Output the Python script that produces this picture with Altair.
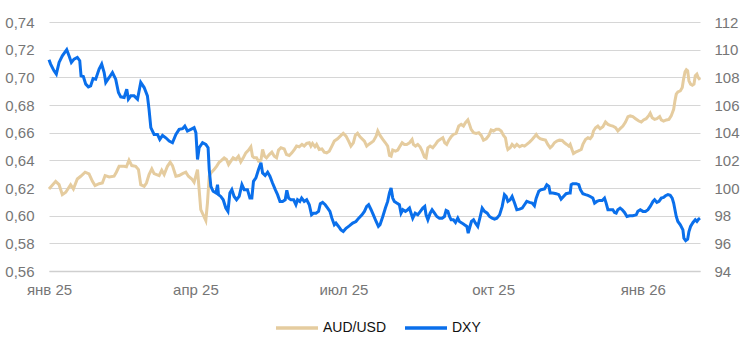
import altair as alt
import pandas as pd

# ---- data (days since 2025-01-01, values) ----
aud_days = [0, 4.1, 6.2, 8.2, 10.3, 13.3, 15.0, 17.4, 19.5, 22.2, 24.6, 26.7, 28.3, 30.8, 32.8, 34.5, 37.0, 40.0, 41.4, 43.1,
            46.2, 47.6, 49.2, 50.9, 53.3, 55.0, 56.4, 58.5, 59.9, 61.5, 63.2, 64.6, 67.7, 69.3, 70.8, 72.8, 74.5, 75.9, 78.0, 80.0,
            82.1, 84.1, 85.7, 87.8, 89.2, 91.3,
            93.3, 94.8, 96.4, 97.4, 98.5, 99.5, 101.5, 103.0, 104.6, 106.2, 107.7, 109.1, 110.4, 111.8, 113.2, 114.9, 116.5, 117.9,
            119.4, 121.0, 122.7, 124.1, 125.1, 126.1, 127.6, 128.8, 130.3, 131.3, 132.5, 133.7, 135.4, 137.0, 138.5, 139.9, 141.1,
            142.6, 144.6, 146.0, 147.7, 149.3, 150.8, 152.2, 153.8, 155.5, 156.9, 158.4, 160.0, 161.0, 162.0, 163.5, 164.5, 166.1,
            167.8, 169.2, 170.7, 172.3, 173.9, 175.4, 177.4, 179.5, 180.9, 182.6, 184.2, 185.6, 187.1, 188.3, 189.7, 191.2,
            193.9, 195.3, 196.5, 198.0, 199.4, 201.1, 202.1, 203.5, 205.2, 206.8, 208.2, 209.3, 210.3, 211.3, 213.0, 214.4, 215.8,
            217.1, 218.5, 219.9, 221.6, 223.2, 224.0, 225.3, 226.7, 228.1, 229.4, 230.8, 231.8, 232.9, 234.3, 235.9, 237.6, 239.0,
            240.4, 242.1, 243.3, 244.5, 245.8, 247.2, 248.6, 250.3, 251.9, 253.4, 254.8, 256.0, 257.5, 258.5, 259.5, 261.0, 262.6,
            264.2, 265.7, 267.1, 268.8, 270.4, 271.8, 273.3, 274.9, 276.5, 278.0, 279.4, 280.6, 281.5, 282.1, 283.5, 284.7, 286.2,
            287.6, 289.3, 290.9,
            292.3, 293.7, 295.4, 297.0, 298.4, 299.5, 300.5, 301.9, 303.6, 305.2, 306.6, 308.1, 309.3, 310.7, 312.2, 313.8, 315.5,
            316.9, 318.3, 319.6, 320.4, 321.6, 322.4, 323.7, 325.1, 327.2, 328.2, 329.8, 331.3, 332.7, 333.9, 334.7, 336.0, 337.4,
            338.8, 340.5, 342.1, 343.6, 345.0, 346.6, 348.3, 349.7, 351.1, 352.8, 354.4, 355.9, 357.3, 358.9, 360.6, 362.6, 364.1,
            365.5, 367.1, 368.8, 369.6, 370.8, 372.3, 373.7, 375.4, 376.4, 377.8, 379.5, 381.1, 382.5, 384.0, 384.8, 385.6, 386.6,
            388.1, 389.3, 390.1, 391.0, 391.8, 392.6, 393.4, 394.4, 395.5, 396.5, 397.3, 398.3, 399.1, 400.2]
aud_values = [0.6193, 0.6248, 0.6224, 0.6152, 0.6169, 0.6224, 0.6193, 0.6265, 0.6285, 0.6314, 0.6302, 0.6248, 0.6217, 0.6231,
              0.6236, 0.6290, 0.6280, 0.6285, 0.6314, 0.6357, 0.6357, 0.6353, 0.6401, 0.6362, 0.6357, 0.6333, 0.6224, 0.6212,
              0.6236, 0.6297, 0.6338, 0.6304, 0.6290, 0.6328, 0.6297, 0.6357, 0.6386, 0.6362, 0.6285, 0.6290, 0.6304, 0.6314,
              0.6285, 0.6265, 0.6241, 0.6333,
              0.6043, 0.6006, 0.5965, 0.6091, 0.6285, 0.6309, 0.6333, 0.6357, 0.6386, 0.6401, 0.6418, 0.6406, 0.6369, 0.6394,
              0.6418, 0.6406, 0.6430, 0.6389, 0.6418, 0.6454, 0.6474, 0.6498, 0.6430, 0.6418, 0.6418, 0.6394, 0.6401, 0.6478,
              0.6430, 0.6418, 0.6442, 0.6459, 0.6430, 0.6418, 0.6474, 0.6491, 0.6483, 0.6442, 0.6435, 0.6454, 0.6478, 0.6503,
              0.6498, 0.6515, 0.6503, 0.6522, 0.6527, 0.6503, 0.6522, 0.6498, 0.6515, 0.6478, 0.6483, 0.6459, 0.6454, 0.6466,
              0.6503, 0.6539, 0.6556, 0.6580, 0.6595, 0.6575, 0.6539, 0.6503, 0.6527, 0.6580, 0.6595, 0.6570,
              0.6539, 0.6503, 0.6515, 0.6527, 0.6539, 0.6575, 0.6612, 0.6580, 0.6551, 0.6527, 0.6503, 0.6435, 0.6430, 0.6474,
              0.6466, 0.6474, 0.6503, 0.6527, 0.6515, 0.6515, 0.6527, 0.6551, 0.6515, 0.6503, 0.6515, 0.6498, 0.6466, 0.6425,
              0.6418, 0.6491, 0.6503, 0.6491, 0.6515, 0.6539, 0.6551, 0.6563, 0.6527, 0.6515, 0.6546, 0.6570, 0.6587, 0.6595,
              0.6648, 0.6660, 0.6648, 0.6672, 0.6692, 0.6660, 0.6624, 0.6600, 0.6595, 0.6600, 0.6580, 0.6546, 0.6556, 0.6580,
              0.6619, 0.6612, 0.6624, 0.6624, 0.6612, 0.6580, 0.6563, 0.6503, 0.6478, 0.6491, 0.6515, 0.6498, 0.6515, 0.6498,
              0.6508,
              0.6503, 0.6515, 0.6532, 0.6551, 0.6570, 0.6587, 0.6570, 0.6556, 0.6551, 0.6546, 0.6515, 0.6491, 0.6503, 0.6527,
              0.6539, 0.6546, 0.6544, 0.6527, 0.6515, 0.6503, 0.6515, 0.6474, 0.6449, 0.6459, 0.6466, 0.6478, 0.6515, 0.6551,
              0.6563, 0.6556, 0.6575, 0.6612, 0.6636, 0.6648, 0.6629, 0.6643, 0.6677, 0.6660, 0.6653, 0.6648, 0.6636, 0.6612,
              0.6629, 0.6648, 0.6677, 0.6716, 0.6721, 0.6716, 0.6701, 0.6684, 0.6677, 0.6692, 0.6701, 0.6725, 0.6740, 0.6708,
              0.6696, 0.6701, 0.6716, 0.6692, 0.6684, 0.6692, 0.6696, 0.6721, 0.6769, 0.6830, 0.6878, 0.6895, 0.6902, 0.6926,
              0.6987, 0.7040, 0.7055, 0.7047, 0.6975, 0.6951, 0.6943, 0.6951, 0.7011, 0.7023, 0.6999, 0.6982]

dxy_days = [0, 1.0, 3.1, 4.5, 6.2, 8.2, 10.9, 12.3, 13.75, 15.4, 17.4, 18.9, 19.7, 21.1, 22.6, 24.2, 25.6, 27.1, 28.7, 30.8,
            32.4, 33.9, 34.9, 37.0, 39.0, 41.0, 42.7, 44.1, 46.2, 47.8, 48.8, 50.3, 52.3, 54.4, 56.4, 58.5, 60.5, 61.5, 62.6, 64.6,
            66.7, 68.1, 69.8, 71.8, 73.9, 75.9, 78.0, 80.0, 82.1, 83.5, 85.1, 87.2, 89.2, 90.3, 91.3, 92.3, 94.4, 96.4, 97.8,
            98.5, 99.5, 100.9, 102.6, 103.6, 104.2, 105.6, 107.1, 108.7, 110.0, 111.2, 112.4, 113.8, 115.3, 116.9, 118.6, 120.0,
            122.0, 123.5, 124.7, 125.7, 127.2, 128.8, 130.3, 131.3, 132.9, 134.4, 135.8, 137.4, 139.1, 140.5, 142.0, 143.6, 145.2,
            146.2, 147.3, 148.7, 150.4, 151.8, 152.8, 154.2, 155.3, 156.9, 158.4, 160.0, 161.4, 162.7, 164.1, 165.7, 166.8, 168.2,
            169.8, 171.3, 172.7, 173.9, 175.4, 176.4, 178.0, 179.5, 180.9, 182.6, 184.6, 186.7, 188.7, 190.4,
            192.4, 193.9, 195.3, 196.5, 198.0, 199.4, 201.1, 202.5, 203.5, 205.2, 206.8, 208.2, 209.3, 210.3, 211.3, 212.3, 213.8,
            215.4, 216.4, 217.5, 219.1, 220.5, 221.6, 222.6, 223.6, 225.1, 226.7, 228.3, 229.8, 231.0, 231.8, 232.9, 234.3, 235.5,
            237.0, 238.4, 240.0, 241.7, 243.1, 244.1, 245.2, 246.2, 247.2, 248.6, 249.9, 251.3, 252.3, 254.0, 255.4, 256.9, 257.7,
            258.5, 259.7, 261.0, 262.2, 263.6, 265.1, 266.3, 267.7, 269.4, 270.8, 272.4, 273.9, 275.3, 277.0, 278.6, 280.0, 281.1,
            282.1, 283.5, 284.7, 286.2, 287.6, 289.3, 290.9,
            292.3, 293.7, 295.4, 297.0, 298.4, 299.5, 301.1, 302.5, 304.6, 306.0, 307.3, 308.1, 309.7, 311.8, 313.4, 314.8, 316.3,
            317.9, 319.6, 320.4, 321.0, 322.0, 324.1, 325.7, 326.7, 328.2, 329.8, 331.3, 332.7, 334.3, 335.4, 336.8, 338.4, 340.1,
            341.5, 342.5, 343.6, 345.0, 346.6, 347.7, 348.7, 349.7, 351.1, 352.4, 353.8, 355.3, 356.9, 358.9, 361.0, 362.0, 363.5,
            365.1, 366.7, 368.2, 369.6, 371.3, 372.3, 373.7, 375.0, 376.4, 377.8, 379.0, 380.5, 381.9, 383.1, 384.0, 384.8, 385.6,
            386.6, 388.1, 389.7, 390.3, 391.4, 392.6, 393.4, 394.4, 395.9, 397.3, 398.3, 399.4, 400.2]
dxy_values = [109.27, 108.96, 108.47, 108.23, 109.08, 109.56, 110.0, 109.56, 109.08, 109.32, 109.44, 109.2, 108.11, 108.06,
              107.51, 107.31, 107.38, 107.92, 107.87, 108.6, 108.96, 108.35, 107.63, 107.99, 108.35, 107.87, 106.9, 106.59,
              106.54, 107.14, 106.42, 106.66, 106.66, 106.42, 107.63, 107.26, 106.66, 105.69, 104.36, 103.87, 103.87, 103.51,
              103.8, 103.63, 103.39, 103.27, 103.87, 104.24, 104.29, 104.48, 104.12, 104.24, 104.36, 104.0, 102.06, 102.91,
              103.27, 103.15, 102.91,
              101.33, 100.12, 99.76, 99.64, 100.24, 99.52, 99.39, 99.15, 98.55, 98.31, 99.64, 99.88, 99.39, 99.15, 99.39, 100.24,
              99.88, 99.88, 99.27, 99.27, 100.48, 100.73, 101.33, 101.82, 101.09, 100.90, 101.14, 100.85, 100.36, 99.88, 99.52,
              99.03, 99.03, 99.15, 99.83, 99.27, 99.15, 99.15, 98.79, 99.15, 99.03, 99.27, 99.03, 99.15, 98.79, 98.06, 98.18,
              98.18, 98.31, 98.86, 98.96, 98.79, 98.55, 98.31, 97.82, 97.34, 97.46, 97.22, 96.97, 96.85, 97.09, 97.26, 97.46,
              97.58, 97.82,
              98.06, 98.31, 98.67, 98.79, 98.43, 98.06, 97.58, 97.22, 97.34, 97.94, 98.55, 99.03, 99.64, 100.0, 99.27, 99.03,
              98.91, 98.79, 98.18, 98.43, 98.31, 98.43, 98.55, 98.18, 97.82, 98.18, 98.06, 98.31, 98.55, 98.67, 98.06, 97.70,
              98.18, 98.43, 98.18, 97.94, 97.82, 97.82, 97.94, 98.38, 98.31, 97.94, 97.70, 97.70, 97.51, 97.82, 97.58, 97.46,
              97.34, 97.22, 96.73, 97.09, 97.58, 97.70, 97.46, 97.22, 97.94, 98.55, 98.31, 98.18, 97.94, 97.82, 97.75, 97.82,
              98.06, 98.67, 99.52, 99.39, 99.03, 99.15, 99.39, 98.91, 98.43, 98.47, 98.55,
              98.79, 99.03, 98.96, 98.91, 98.72, 99.27, 99.76, 99.88, 99.93, 100.24, 100.12, 99.64, 99.64, 99.59, 99.52, 99.20,
              99.39, 99.59, 99.64, 99.64, 100.24, 100.31, 100.31, 100.24, 99.88, 99.59, 99.52, 99.47, 99.39, 99.27, 98.91, 99.03,
              99.10, 99.10, 99.27, 98.91, 98.43, 98.43, 98.43, 98.23, 98.18, 98.43, 98.55, 98.43, 98.23, 97.94, 97.99, 97.99,
              98.06, 98.31, 98.43, 98.31, 98.31, 98.43, 98.67, 99.03, 99.15, 98.96, 99.03, 99.27, 99.32, 99.44, 99.52, 99.47,
              99.27, 98.91, 98.43, 97.94, 97.58, 97.34, 96.97, 96.37, 96.20, 96.30, 96.85, 97.22, 97.51, 97.70, 97.58, 97.75,
              97.82]

series_names = ["AUD/USD", "DXY"]
series_colors = ["#E5CC9F", "#0A6FEB"]
aud_ticks = [0.56, 0.58, 0.60, 0.62, 0.64, 0.66, 0.68, 0.70, 0.72, 0.74]
dxy_ticks = [94, 96, 98, 100, 102, 104, 106, 108, 110, 112]
month_labels = ["янв", "фев", "мар", "апр", "май", "июн", "июл", "авг", "сен", "окт", "ноя", "дек"]
x_tick_dates = [(2025, 1), (2025, 4), (2025, 7), (2025, 10), (2026, 1)]

base = pd.Timestamp("2025-01-01")
aud_df = pd.DataFrame({
    "date": base + pd.to_timedelta(aud_days, unit="D"),
    "value": aud_values,
    "series": series_names[0],
})
dxy_df = pd.DataFrame({
    "date": base + pd.to_timedelta(dxy_days, unit="D"),
    "value": dxy_values,
    "series": series_names[1],
})

FONT = "Liberation Sans"
months_js = "[" + ",".join("'%s'" % m for m in month_labels) + "]"

x_enc = alt.X(
    "date:T",
    title=None,
    axis=alt.Axis(
        values=[alt.DateTime(year=y, month=m, date=1) for y, m in x_tick_dates],
        labelExpr=months_js + "[month(datum.value)] + ' ' + timeFormat(datum.value, '%y')",
        ticks=False,
        domain=True,
        domainColor="#cfcfcf",
        domainWidth=1.5,
        grid=False,
        labelPadding=11,
        labelFontSize=15,
        labelColor="#767676",
        labelFont=FONT,
        labelFlush=False,
        labelOverlap=False,
    ),
)

color_enc = alt.Color(
    "series:N",
    scale=alt.Scale(domain=series_names, range=series_colors),
    legend=alt.Legend(
        title=None,
        orient="none",
        direction="horizontal",
        legendX=225,
        legendY=283,
        symbolType="stroke",
        symbolSize=1764,
        symbolStrokeWidth=3.5,
        labelFontSize=14,
        labelFont=FONT,
        labelColor="#111111",
        labelOffset=3,
        columnPadding=11,
        padding=0,
    ),
)

aud_line = alt.Chart(aud_df).mark_line(strokeWidth=3).encode(
    x=x_enc,
    y=alt.Y(
        "value:Q",
        title=None,
        scale=alt.Scale(domain=[0.56, 0.74], nice=False, zero=False),
        axis=alt.Axis(
            orient="left",
            values=aud_ticks,
            labelExpr="replace(format(datum.value, '.2f'), '.', ',')",
            ticks=False,
            domain=False,
            grid=True,
            gridColor="#d6d6d6",
            gridWidth=1,
            labelPadding=15,
            labelFontSize=15,
            labelColor="#767676",
            labelFont=FONT,
        ),
    ),
    color=color_enc,
)

dxy_line = alt.Chart(dxy_df).mark_line(strokeWidth=3).encode(
    x=x_enc,
    y=alt.Y(
        "value:Q",
        title=None,
        scale=alt.Scale(domain=[94, 112], nice=False, zero=False),
        axis=alt.Axis(
            orient="right",
            values=dxy_ticks,
            format="d",
            ticks=False,
            domain=False,
            grid=False,
            labelPadding=14,
            labelFontSize=15,
            labelColor="#767676",
            labelFont=FONT,
        ),
    ),
    color=color_enc,
)

chart = (
    alt.layer(aud_line, dxy_line)
    .resolve_scale(y="independent")
    .properties(
        width=651,
        height=249,
        autosize=alt.AutoSizeParams(type="none"),
        padding={"left": 49, "top": 22, "right": 46, "bottom": 84},
        background="white",
    )
    .configure_view(stroke=None)
)

chart.save("out.html", embed_options={"renderer": "svg", "actions": False})
